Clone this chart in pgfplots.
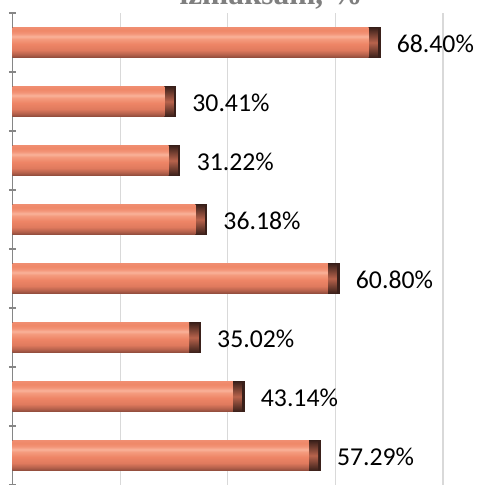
\documentclass[border=0pt]{standalone}
\usepackage{pgfplots}
\pgfplotsset{compat=1.18}
\usepackage{fontspec}
\setmainfont{Carlito}
\newfontfamily\titlefont{Liberation Serif}
\definecolor{c0}{HTML}{8E4B3B}
\definecolor{c1}{HTML}{B5614C}
\definecolor{c2}{HTML}{E07A5E}
\definecolor{c3}{HTML}{EE8566}
\definecolor{c4}{HTML}{F49B7E}
\definecolor{c5}{HTML}{F9B299}
\definecolor{c6}{HTML}{F39477}
\definecolor{c7}{HTML}{EF8868}
\definecolor{c8}{HTML}{F08D70}
\definecolor{capdark}{HTML}{3A201A}
\definecolor{capmid}{HTML}{B8634C}
\definecolor{gridgray}{HTML}{D9D9D9}
\definecolor{axgray}{HTML}{868686}
\definecolor{titlegray}{HTML}{7F7F7F}
\pgfdeclareverticalshading{barshade}{100bp}{color(0bp)=(c0); color(25bp)=(c0); color(30bp)=(c1); color(37.5bp)=(c2); color(47.5bp)=(c3); color(56bp)=(c4); color(60bp)=(c5); color(65bp)=(c6); color(70bp)=(c7); color(75bp)=(c8); color(100bp)=(c8)}
\pgfdeclareverticalshading{capshade}{100bp}{color(0bp)=(capdark); color(25bp)=(capdark); color(50bp)=(capmid); color(75bp)=(capdark); color(100bp)=(capdark)}
\pgfplotsset{
  full/.style={draw=none, fill=capdark,
    nodes near coords={\pgfmathprintnumber[fixed,fixed zerofill,precision=2,assume math mode=true]{\pgfplotspointmeta}\%},
    nodes near coords align={anchor=west},
    every node near coord/.append style={font=\fontsize{19.3}{22}\selectfont, text=black, inner sep=0pt, xshift=12pt, yshift=-1pt}},
  capb/.style={draw=none, shading=capshade},
  mainb/.style={draw=none, shading=barshade},
}
\begin{document}
\begin{tikzpicture}
\useasboundingbox (0,0) rectangle (359.25pt,363.75pt);
\begin{axis}[
  at={(9.375pt,0pt)}, anchor=south west,
  scale only axis, width=322.875pt, height=354pt,
  every axis plot/.append style={xbar, bar width=0.51, bar shift=0pt},
  xmin=0, xmax=80, ymin=0.5, ymax=8.5,
  xtick={20,40,60,80}, xticklabels={},
  xmajorgrids, major grid style={gridgray, line width=0.9pt},
  x tick style={draw=none},
  ytick={0.5,1.5,...,8.5}, yticklabels={},
  y tick style={axgray, line width=0.9pt},
  ytick align=inside, major tick length=5.6pt,
  axis y line=left, axis x line=bottom,
  axis line style={-},
  x axis line style={draw=none},
  y axis line style={axgray, line width=1.4pt},
  clip=false,
  title={\titlefont\bfseries izmaksām, \%},
  title style={at={(0.6005,1)}, anchor=base, yshift=0.5pt, font=\fontsize{23.5}{26}\selectfont, text=titlegray, inner sep=0pt},
]
% full bar (dark right end) with value label
\addplot[full] coordinates {(68.40,8)};
\addplot[capb] coordinates {(67.90,8)};
\addplot[mainb] coordinates {(66.20,8)};
\addplot[full] coordinates {(30.41,7)};
\addplot[capb] coordinates {(29.91,7)};
\addplot[mainb] coordinates {(28.21,7)};
\addplot[full] coordinates {(31.22,6)};
\addplot[capb] coordinates {(30.72,6)};
\addplot[mainb] coordinates {(29.02,6)};
\addplot[full] coordinates {(36.18,5)};
\addplot[capb] coordinates {(35.68,5)};
\addplot[mainb] coordinates {(33.98,5)};
\addplot[full] coordinates {(60.80,4)};
\addplot[capb] coordinates {(60.30,4)};
\addplot[mainb] coordinates {(58.60,4)};
\addplot[full] coordinates {(35.02,3)};
\addplot[capb] coordinates {(34.52,3)};
\addplot[mainb] coordinates {(32.82,3)};
\addplot[full] coordinates {(43.14,2)};
\addplot[capb] coordinates {(42.64,2)};
\addplot[mainb] coordinates {(40.94,2)};
\addplot[full] coordinates {(57.29,1)};
\addplot[capb] coordinates {(56.79,1)};
\addplot[mainb] coordinates {(55.09,1)};
\end{axis}
\end{tikzpicture}
\end{document}
